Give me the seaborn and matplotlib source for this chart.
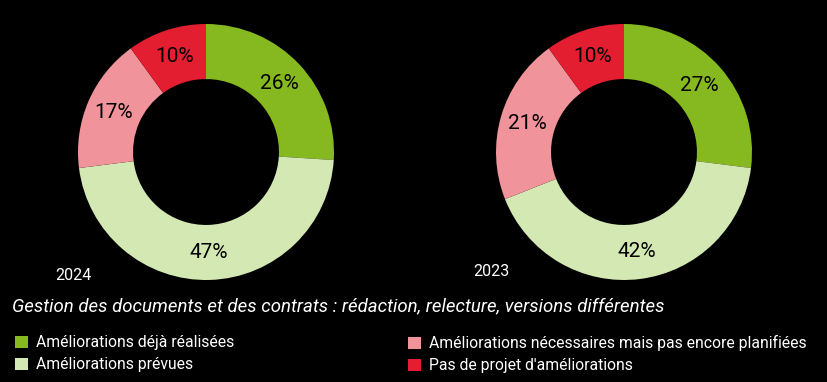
import matplotlib
matplotlib.use("Agg")
import matplotlib.pyplot as plt
import seaborn as sns
from matplotlib.patches import Patch

categories = ["Améliorations déjà réalisées", "Améliorations prévues",
              "Améliorations nécessaires mais pas encore planifiées", "Pas de projet d'améliorations"]
values_2024 = [26, 47, 17, 10]
values_2023 = [27, 42, 21, 10]
years = ["2024", "2023"]
title = "Gestion des documents et des contrats : rédaction, relecture, versions différentes"

sns.set_style("dark")
plt.rcParams['font.family'] = ['Roboto', 'DejaVu Sans']
palette = sns.color_palette(["#86b81f", "#d3e8b3", "#f0939a", "#e31e30"])

W, H = 827, 382
fig = plt.figure(figsize=(W / 100, H / 100), dpi=100, facecolor="black")

R = 128
centers = [(206, 152), (624, 152)]
for (cx, cy), vals, yr in zip(centers, [values_2024, values_2023], years):
    ax = fig.add_axes([(cx - R) / W, (H - cy - R) / H, 2 * R / W, 2 * R / H])
    ax.pie(vals, colors=palette, startangle=90, counterclock=False,
           labels=[f"{v}%" for v in vals], labeldistance=0.785,
           wedgeprops=dict(width=0.43, edgecolor="none"),
           textprops=dict(color="black", fontsize=15, ha="center", va="center"))
    ax.set_xlim(-1, 1)
    ax.set_ylim(-1, 1)
    ax.set_facecolor("black")
    ax.axis("off")

fig.text(55 / W, 1 - 275 / H, years[0], color="white", fontsize=11.5, va="center")
fig.text(473 / W, 1 - 272 / H, years[1], color="white", fontsize=11.5, va="center")
fig.text(12 / W, 1 - 306 / H, title, color="white", fontsize=13.4, style="italic", va="center")

handles = [Patch(facecolor=c, edgecolor="none") for c in palette]
for cols, x0 in [([0, 1], 4), ([2, 3], 397)]:
    fig.legend([handles[i] for i in cols], [categories[i] for i in cols],
               loc="upper left", bbox_to_anchor=(x0 / W, 1 - 324 / H),
               frameon=False, fontsize=11.3, labelcolor="white",
               handlelength=0.8, handleheight=0.8, handletextpad=0.55,
               labelspacing=0.45, borderpad=0.2)

fig.savefig("out.png", dpi=100, facecolor="black")
